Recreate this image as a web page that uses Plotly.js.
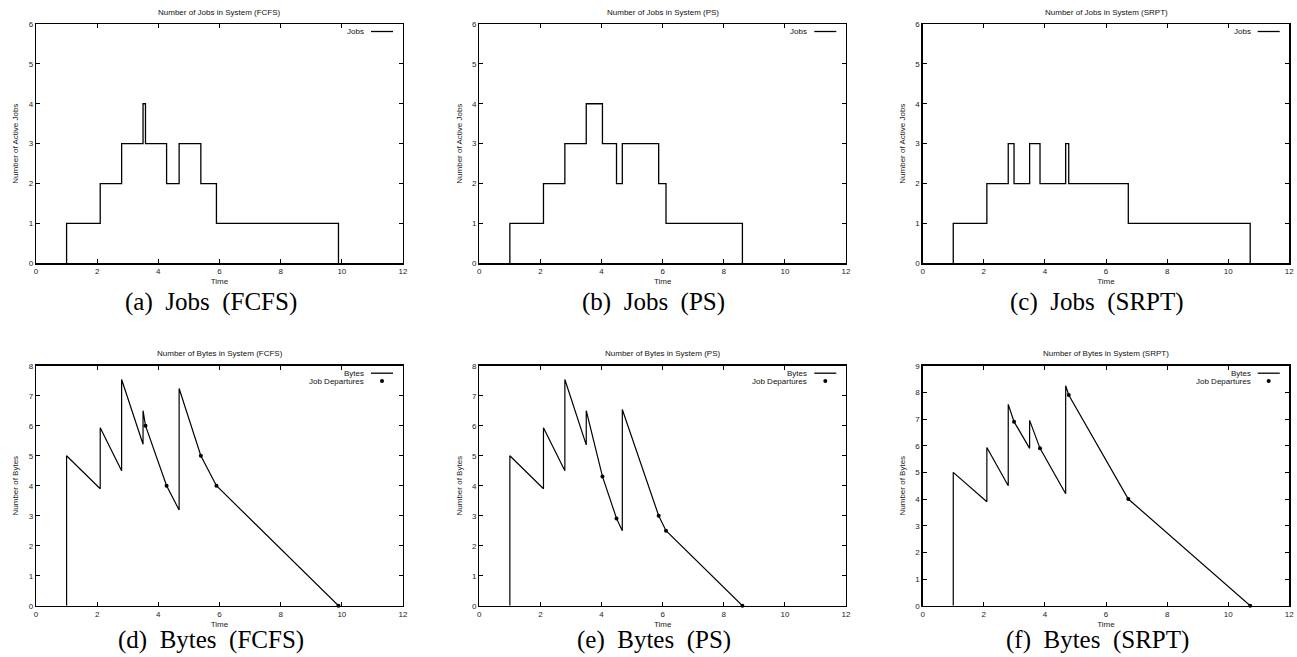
<!DOCTYPE html>
<html>
<head>
<meta charset="utf-8">
<script src="https://cdn.plot.ly/plotly-3.0.1.min.js"></script>
<style>
html, body { margin: 0; padding: 0; background: #fff; }
#chart { width: 1297px; height: 657px; }
</style>
</head>
<body>
<div id="chart"></div>
<script>
// ---------- Data ----------
const xTickVals = [0, 2, 4, 6, 8, 10, 12];

// Number of jobs in system (step functions: time of change, new count)
const fcfsJobTime  = [1.0, 1.0, 2.1, 2.8, 3.5, 3.58, 4.27, 4.68, 5.39, 5.9, 9.89];
const fcfsJobCount = [0, 1, 2, 3, 4, 3, 2, 3, 2, 1, 0];
const psJobTime    = [1.0, 1.0, 2.1, 2.8, 3.5, 4.03, 4.49, 4.68, 5.87, 6.11, 8.61];
const psJobCount   = [0, 1, 2, 3, 4, 3, 2, 3, 2, 1, 0];
const srptJobTime  = [1.0, 1.0, 2.1, 2.8, 2.99, 3.5, 3.84, 4.68, 4.78, 6.73, 10.72];
const srptJobCount = [0, 1, 2, 3, 2, 3, 2, 3, 2, 1, 0];

// Number of bytes in system
const fcfsByteTime  = [1.0, 1.0, 2.1, 2.1, 2.8, 2.8, 3.5, 3.5, 3.58, 4.27, 4.68, 4.68, 5.39, 5.9, 9.89];
const fcfsBytes     = [0, 5.0, 3.9, 5.93, 4.5, 7.54, 5.38, 6.5, 6.0, 4.0, 3.19, 7.24, 5.0, 4.0, 0];
const fcfsDepTime   = [3.58, 4.27, 5.39, 5.9, 9.89];
const fcfsDepBytes  = [6.0, 4.0, 5.0, 4.0, 0];

const psByteTime    = [1.0, 1.0, 2.1, 2.1, 2.8, 2.8, 3.5, 3.5, 4.03, 4.49, 4.68, 4.68, 5.87, 6.11, 8.61];
const psBytes       = [0, 5.0, 3.9, 5.93, 4.5, 7.54, 5.36, 6.5, 4.31, 2.91, 2.5, 6.54, 3.0, 2.5, 0];
const psDepTime     = [4.03, 4.49, 5.87, 6.11, 8.61];
const psDepBytes    = [4.31, 2.91, 3.0, 2.5, 0];

const srptByteTime  = [1.0, 1.0, 2.1, 2.1, 2.8, 2.8, 2.99, 3.5, 3.5, 3.84, 4.68, 4.68, 4.78, 6.73, 10.72];
const srptBytes     = [0, 5.0, 3.9, 5.93, 4.5, 7.55, 6.9, 5.9, 6.95, 5.9, 4.2, 8.25, 7.9, 4.0, 0];
const srptDepTime   = [2.99, 3.84, 4.78, 6.73, 10.72];
const srptDepBytes  = [6.9, 5.9, 7.9, 4.0, 0];

const panelTitles = [
  "Number of Jobs in System (FCFS)", "Number of Jobs in System (PS)", "Number of Jobs in System (SRPT)",
  "Number of Bytes in System (FCFS)", "Number of Bytes in System (PS)", "Number of Bytes in System (SRPT)"
];
const captions = [
  "(a)\u2002Jobs\u2002(FCFS)", "(b)\u2002Jobs\u2002(PS)", "(c)\u2002Jobs\u2002(SRPT)",
  "(d)\u2002Bytes\u2002(FCFS)", "(e)\u2002Bytes\u2002(PS)", "(f)\u2002Bytes\u2002(SRPT)"
];
const yTitles = ["Number of Active Jobs", "Number of Active Jobs", "Number of Active Jobs",
                 "Number of Bytes", "Number of Bytes", "Number of Bytes"];
const yMax = [6, 6, 6, 8, 8, 9];
const xTitle = "Time";
const legendJobs = "Jobs";
const legendBytes = "Bytes";
const legendDeps = "Job Departures";

// ---------- Layout geometry ----------
const W = 1297, H = 657;
const colPx = [[36, 403], [479.3, 846], [922.7, 1289.3]];
const rowPx = [[24, 263.3], [365.7, 605.7]];
const px = v => v / W;
const py = v => 1 - v / H;

const jobSeries = [[fcfsJobTime, fcfsJobCount], [psJobTime, psJobCount], [srptJobTime, srptJobCount]];
const byteSeries = [[fcfsByteTime, fcfsBytes], [psByteTime, psBytes], [srptByteTime, srptBytes]];
const depSeries = [[fcfsDepTime, fcfsDepBytes], [psDepTime, psDepBytes], [srptDepTime, srptDepBytes]];

const traces = [];
const layout = {
  width: W, height: H,
  margin: {l: 0, r: 0, t: 0, b: 0},
  paper_bgcolor: "#ffffff", plot_bgcolor: "#ffffff",
  showlegend: false,
  font: {family: "Liberation Sans, Arial, sans-serif", size: 8, color: "#000"},
  annotations: [], shapes: []
};

const axisFont = {family: "Liberation Sans, Arial, sans-serif", size: 8, color: "#222"};

for (let i = 0; i < 6; i++) {
  const r = Math.floor(i / 3), c = i % 3;
  const n = i + 1;
  const xa = "x" + (n === 1 ? "" : n), ya = "y" + (n === 1 ? "" : n);
  const xKey = "xaxis" + (n === 1 ? "" : n), yKey = "yaxis" + (n === 1 ? "" : n);
  const [x0, x1] = colPx[c];
  const [y0, y1] = rowPx[r];

  layout[xKey] = {
    domain: [px(x0), px(x1)], anchor: ya,
    range: [0, 12], tickvals: xTickVals, ticktext: xTickVals.map(String),
    showline: true, linecolor: "#000", linewidth: 1.3, mirror: "ticks",
    ticks: "inside", ticklen: 4, tickwidth: 1, tickcolor: "#000",
    showgrid: false, zeroline: false, fixedrange: true,
    tickfont: axisFont,
    title: {text: xTitle, font: axisFont, standoff: 3}
  };
  const yTicks = [];
  for (let k = 0; k <= yMax[i]; k++) yTicks.push(k);
  layout[yKey] = {
    domain: [py(y1), py(y0)], anchor: xa,
    range: [0, yMax[i]], tickvals: yTicks,
    showline: true, linecolor: "#000", linewidth: 1.3, mirror: "ticks",
    ticks: "inside", ticklen: 4, tickwidth: 1, tickcolor: "#000",
    showgrid: false, zeroline: false, fixedrange: true,
    tickfont: axisFont,
    title: {text: yTitles[i], font: axisFont, standoff: 8}
  };

  if (r === 0) {
    const [tx, ty] = jobSeries[c];
    traces.push({type: "scatter", mode: "lines", x: tx, y: ty, xaxis: xa, yaxis: ya,
      name: legendJobs, line: {color: "#000", width: 1.3, shape: "hv"}});
  } else {
    const [bx, by] = byteSeries[c];
    const [dx, dy] = depSeries[c];
    traces.push({type: "scatter", mode: "lines", x: bx, y: by, xaxis: xa, yaxis: ya,
      name: legendBytes, line: {color: "#000", width: 1.2}});
    traces.push({type: "scatter", mode: "markers", x: dx, y: dy, xaxis: xa, yaxis: ya,
      name: legendDeps, marker: {color: "#000", size: 4, symbol: "circle"}, cliponaxis: false});
  }

  // panel title
  layout.annotations.push({
    xref: "paper", yref: "paper", x: px((x0 + x1) / 2), y: py(y0 - 12),
    xanchor: "center", yanchor: "middle", showarrow: false,
    text: panelTitles[i], font: {family: "Liberation Sans, Arial, sans-serif", size: 8, color: "#111"}
  });
  // caption
  layout.annotations.push({
    xref: "paper", yref: "paper", x: px((x0 + x1) / 2 - 9), y: py(r === 0 ? 302 : 640),
    xanchor: "center", yanchor: "middle", showarrow: false,
    text: captions[i], font: {family: "Liberation Serif, Times New Roman, serif", size: 25, color: "#000"}
  });

  // key (text at left, sample at right, as in the reference)
  const textRight = x0 + 330, sx0 = x0 + 335, sx1 = x0 + 357;
  const ky1 = y0 + 7.5, ky2 = y0 + 15.3;
  layout.annotations.push({
    xref: "paper", yref: "paper", x: px(textRight), y: py(ky1),
    xanchor: "right", yanchor: "middle", showarrow: false,
    text: r === 0 ? legendJobs : legendBytes, font: {family: "Liberation Sans, Arial, sans-serif", size: 8, color: "#111"}
  });
  layout.shapes.push({type: "line", xref: "paper", yref: "paper",
    x0: px(sx0), x1: px(sx1), y0: py(ky1), y1: py(ky1), line: {color: "#000", width: 1.3}});
  if (r === 1) {
    layout.annotations.push({
      xref: "paper", yref: "paper", x: px(textRight), y: py(ky2),
      xanchor: "right", yanchor: "middle", showarrow: false,
      text: legendDeps, font: {family: "Liberation Sans, Arial, sans-serif", size: 8, color: "#111"}
    });
    layout.shapes.push({type: "circle", xref: "paper", yref: "paper",
      xsizemode: "pixel", ysizemode: "pixel",
      xanchor: px((sx0 + sx1) / 2), yanchor: py(ky2),
      x0: -2, x1: 2, y0: -2, y1: 2,
      fillcolor: "#000", line: {color: "#000", width: 0}});
  }
}

Plotly.newPlot("chart", traces, layout, {staticPlot: true, displayModeBar: false});
</script>
</body>
</html>
